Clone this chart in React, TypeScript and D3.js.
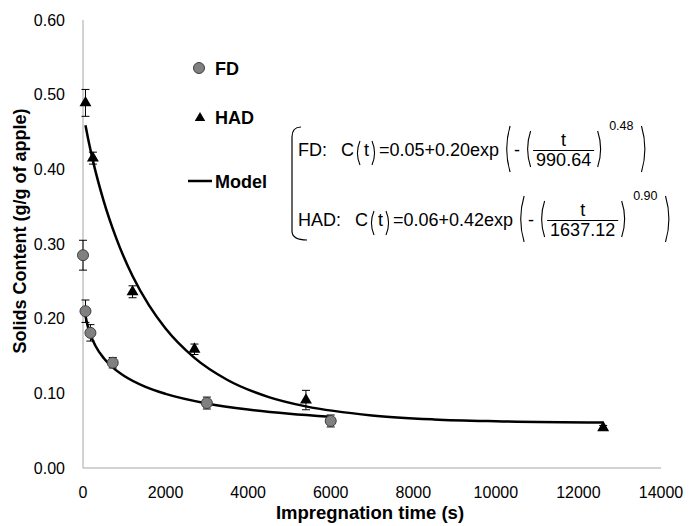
import React from 'react';
import * as d3 from 'd3';

const fdTime = [0, 60, 180, 720, 3000, 6000];
const fdValue = [0.285, 0.21, 0.181, 0.141, 0.087, 0.063];
const fdError = [0.02, 0.015, 0.011, 0.007, 0.008, 0.008];

const hadTime = [60, 240, 1200, 2700, 5400, 12600];
const hadValue = [0.489, 0.415, 0.236, 0.159, 0.091, 0.054];
const hadError = [0.018, 0.008, 0.008, 0.007, 0.013, 0.003];

const fdModelTime = [60, 120, 180, 300, 500, 720, 1000, 1500, 2000, 3000, 4000, 5000, 6000];
const fdModelValue = [0.204, 0.189, 0.1787, 0.1638, 0.1473, 0.1348, 0.1232, 0.109, 0.0993, 0.0865, 0.0783, 0.0727, 0.0686];

const hadModelTime = [60, 120, 240, 500, 800, 1200, 1600, 2000, 2700, 3500, 4500, 5400, 7000, 8500, 10000, 12600];
const hadModelValue = [0.4591, 0.4419, 0.4117, 0.3578, 0.3085, 0.2571, 0.2177, 0.1868, 0.1475, 0.1179, 0.095, 0.0825, 0.0704, 0.0651, 0.0626, 0.0608];

const xTicks = [0, 2000, 4000, 6000, 8000, 10000, 12000, 14000];
const yTicks = [0, 0.1, 0.2, 0.3, 0.4, 0.5, 0.6];

const FONT = '"Liberation Sans", Arial, sans-serif';

let ctx: CanvasRenderingContext2D | null = null;
function measure(s: string, size: number, bold = false) {
  if (!ctx) ctx = document.createElement('canvas').getContext('2d');
  if (!ctx) return s.length * size * 0.55;
  ctx.font = `${bold ? 'bold ' : ''}${size}px ${FONT}`;
  return ctx.measureText(s).width;
}

function openParen(x: number, y1: number, y2: number, w: number) {
  return `M${x + w},${y1} Q${x - w * 0.7},${(y1 + y2) / 2} ${x + w},${y2}`;
}
function closeParen(x: number, y1: number, y2: number, w: number) {
  return `M${x - w},${y1} Q${x + w * 0.7},${(y1 + y2) / 2} ${x - w},${y2}`;
}

function Equation({ x, base, label, head, tau, beta, fs }: { x: number; base: number; label: string; head: string; tau: string; beta: string; fs: number }) {
  const els: React.ReactNode[] = [];
  let cx = x;
  let k = 0;
  const txt = (s: string, xx: number, yy: number, size = fs, anchor = 'start') => {
    els.push(
      <text key={k++} x={xx} y={yy} fontSize={size} fontFamily={FONT} textAnchor={anchor as any}>
        {s}
      </text>
    );
  };
  const path = (d: string) => {
    els.push(<path key={k++} d={d} fill="none" stroke="#000" strokeWidth={1.1} />);
  };
  txt(label + ':', cx, base);
  cx += measure(label + ':', fs) + 14;
  txt('C', cx, base);
  cx += measure('C', fs) + 1;
  path(openParen(cx + 2, base - 15, base + 9, 3));
  cx += 9;
  txt('t', cx, base);
  cx += measure('t', fs) + 2;
  path(closeParen(cx + 4, base - 15, base + 9, 3));
  cx += 8;
  txt(head, cx, base);
  cx += measure(head, fs) + 4;
  path(openParen(cx + 3, base - 30, base + 16, 4));
  cx += 11;
  txt('-', cx, base);
  cx += measure('-', fs) + 4;
  path(openParen(cx + 3, base - 25, base + 11, 3.5));
  cx += 9;
  const fw = measure(tau, fs) + 6;
  const bar = base - 6;
  txt('t', cx + fw / 2, bar - 4, fs, 'middle');
  els.push(<line key={k++} x1={cx} x2={cx + fw} y1={bar + 0.5} y2={bar + 0.5} stroke="#000" strokeWidth={1} />);
  txt(tau, cx + fw / 2, bar + 16, fs, 'middle');
  cx += fw + 3;
  path(closeParen(cx + 4, base - 25, base + 11, 3.5));
  cx += 12;
  const ss = 12.5;
  txt(beta, cx, base - 26, ss);
  cx += measure(beta, ss) + 12;
  path(closeParen(cx, base - 30, base + 16, 4));
  return <g>{els}</g>;
}

export default function App() {
  const W = 689;
  const H = 526;
  const x = d3.scaleLinear().domain([0, 14000]).range([83, 661]);
  const y = d3.scaleLinear().domain([0, 0.6]).range([468, 20]);

  const line = d3
    .line<[number, number]>()
    .x((d) => x(d[0]))
    .y((d) => y(d[1]))
    .curve(d3.curveMonotoneX);

  const fdModel = fdModelTime.map((t, i) => [t, fdModelValue[i]] as [number, number]);
  const hadModel = hadModelTime.map((t, i) => [t, hadModelValue[i]] as [number, number]);

  const tri = d3.symbol().type(d3.symbolTriangle).size(62)() as string;
  const triLegend = d3.symbol().type(d3.symbolTriangle).size(48)() as string;

  const axisColor = '#a6a6a6';

  return (
    <svg width={W} height={H} style={{ position: 'absolute', left: 0, top: 0, background: '#fff' }} fontFamily={FONT}>
      <rect x={0} y={0} width={W} height={H} fill="#fff" />
      {/* axes */}
      <line x1={x(0)} x2={x(0)} y1={y(0.6)} y2={y(0)} stroke={axisColor} strokeWidth={1} />
      <line x1={x(0)} x2={x(14000)} y1={y(0)} y2={y(0)} stroke={axisColor} strokeWidth={1} />
      {yTicks.map((t) => (
        <text key={'y' + t} x={65} y={y(t) + 5.5} fontSize={16} textAnchor="end" fill="#000">
          {t.toFixed(2)}
        </text>
      ))}
      {xTicks.map((t) => (
        <text key={'x' + t} x={x(t)} y={498} fontSize={16} textAnchor="middle" fill="#000">
          {t}
        </text>
      ))}
      <text x={370} y={519} fontSize={18.5} fontWeight="bold" textAnchor="middle">
        Impregnation time (s)
      </text>
      <text transform={`translate(26,231) rotate(-90)`} fontSize={18} fontWeight="bold" textAnchor="middle">
        Solids Content (g/g of apple)
      </text>

      {/* model curves */}
      <path d={line(fdModel) as string} fill="none" stroke="#000" strokeWidth={2.5} />
      <path d={line(hadModel) as string} fill="none" stroke="#000" strokeWidth={2.5} />

      {/* error bars */}
      {fdTime.map((t, i) => (
        <g key={'fe' + i} stroke="#000" strokeWidth={1}>
          <line x1={x(t)} x2={x(t)} y1={y(fdValue[i] - fdError[i])} y2={y(fdValue[i] + fdError[i])} />
          <line x1={x(t) - 4} x2={x(t) + 4} y1={y(fdValue[i] - fdError[i])} y2={y(fdValue[i] - fdError[i])} />
          <line x1={x(t) - 4} x2={x(t) + 4} y1={y(fdValue[i] + fdError[i])} y2={y(fdValue[i] + fdError[i])} />
        </g>
      ))}
      {hadTime.map((t, i) => (
        <g key={'he' + i} stroke="#000" strokeWidth={1}>
          <line x1={x(t)} x2={x(t)} y1={y(hadValue[i] - hadError[i])} y2={y(hadValue[i] + hadError[i])} />
          <line x1={x(t) - 4} x2={x(t) + 4} y1={y(hadValue[i] - hadError[i])} y2={y(hadValue[i] - hadError[i])} />
          <line x1={x(t) - 4} x2={x(t) + 4} y1={y(hadValue[i] + hadError[i])} y2={y(hadValue[i] + hadError[i])} />
        </g>
      ))}

      {/* markers */}
      {fdTime.map((t, i) => (
        <circle key={'fm' + i} cx={x(t)} cy={y(fdValue[i])} r={5.5} fill="#808080" stroke="#3f3f3f" strokeWidth={1} />
      ))}
      {hadTime.map((t, i) => (
        <path key={'hm' + i} d={tri} transform={`translate(${x(t)},${y(hadValue[i])})`} fill="#000" />
      ))}

      {/* legend */}
      <circle cx={199} cy={68} r={5.5} fill="#808080" stroke="#3f3f3f" strokeWidth={1} />
      <text x={215} y={75} fontSize={18} fontWeight="bold">FD</text>
      <path d={triLegend} transform="translate(200,118)" fill="#000" />
      <text x={215} y={124} fontSize={18} fontWeight="bold">HAD</text>
      <line x1={188} x2={212} y1={181} y2={181} stroke="#000" strokeWidth={2.5} />
      <text x={215} y={188} fontSize={18} fontWeight="bold">Model</text>

      {/* equation bracket */}
      <path d="M301,127 Q292,127 292,137 L292,231 Q292,240 307,240" fill="none" stroke="#000" strokeWidth={1.2} />
      <Equation x={298} base={156} label="FD" head="=0.05+0.20exp" tau="990.64" beta="0.48" fs={18} />
      <Equation x={298} base={226} label="HAD" head="=0.06+0.42exp" tau="1637.12" beta="0.90" fs={18} />
    </svg>
  );
}
